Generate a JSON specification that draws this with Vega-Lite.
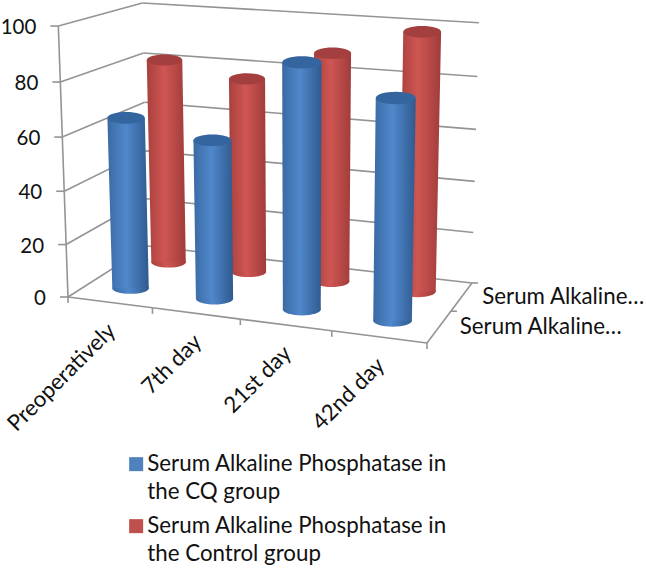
{"$schema":"https://vega.github.io/schema/vega-lite/v6.json","width":646,"height":571,"padding":0,"autosize":{"type":"none"},"background":"white","config":{"view":{"stroke":null},"text":{"font":"Lato"},"style":{"guide-label":{"lineHeight":28}}},
"datasets":{
"bars":[{"day":"Preoperatively","group":"Serum Alkaline Phosphatase in the CQ group","value":65},{"day":"7th day","group":"Serum Alkaline Phosphatase in the CQ group","value":59.5},{"day":"21st day","group":"Serum Alkaline Phosphatase in the CQ group","value":90},{"day":"42nd day","group":"Serum Alkaline Phosphatase in the CQ group","value":80},{"day":"Preoperatively","group":"Serum Alkaline Phosphatase in the Control  group","value":81},{"day":"7th day","group":"Serum Alkaline Phosphatase in the Control  group","value":76},{"day":"21st day","group":"Serum Alkaline Phosphatase in the Control  group","value":88},{"day":"42nd day","group":"Serum Alkaline Phosphatase in the Control  group","value":98}],
"ticks":[{"tick":0},{"tick":20},{"tick":40},{"tick":60},{"tick":80},{"tick":100}],
"days":[{"day":"Preoperatively"},{"day":"7th day"},{"day":"21st day"},{"day":"42nd day"}],
"groups":[{"group":"CQ","short":"Serum Alkaline…"},{"group":"Control","short":"Serum Alkaline…"}]},
"layer":[
{"data":{"name":"ticks"},"transform":[{"calculate":"datum.tick/100","as":"z"},{"calculate":"(68-12*datum.z)/(1-0.04*datum.z)","as":"px"},{"calculate":"(297-272*datum.z)/(1-0.04*datum.z)","as":"py"},{"calculate":"(165.57-12*datum.z)/(1.1187-0.04*datum.z)","as":"qx"},{"calculate":"(275.2-272*datum.z)/(1.1187-0.04*datum.z)","as":"qy"}],"mark":{"type":"rule","color":"#949494","strokeWidth":1.6},"encoding":{"x":{"field":"px","type":"quantitative","scale":{"domain":[0,646],"range":[0,646]},"axis":null},"x2":{"field":"qx"},"y":{"field":"py","type":"quantitative","scale":{"domain":[0,571],"range":[0,571]},"axis":null},"y2":{"field":"qy"}}},
{"data":{"name":"ticks"},"transform":[{"calculate":"datum.tick/100","as":"z"},{"calculate":"(491.77-12*datum.z)/(1.0419-0.04*datum.z)","as":"px"},{"calculate":"(294.86-272*datum.z)/(1.0419-0.04*datum.z)","as":"py"},{"calculate":"(165.57-12*datum.z)/(1.1187-0.04*datum.z)","as":"qx"},{"calculate":"(275.2-272*datum.z)/(1.1187-0.04*datum.z)","as":"qy"}],"mark":{"type":"rule","color":"#949494","strokeWidth":1.6},"encoding":{"x":{"field":"px","type":"quantitative","scale":{"domain":[0,646],"range":[0,646]},"axis":null},"x2":{"field":"qx"},"y":{"field":"py","type":"quantitative","scale":{"domain":[0,571],"range":[0,571]},"axis":null},"y2":{"field":"qy"}}},
{"data":{"name":"ticks"},"transform":[{"calculate":"datum.tick/100","as":"z"},{"calculate":"(68-12*datum.z)/(1-0.04*datum.z)","as":"px"},{"calculate":"(297-272*datum.z)/(1-0.04*datum.z)","as":"py"},{"calculate":"datum.px-8","as":"qx"}],"mark":{"type":"rule","color":"#949494","strokeWidth":1.6},"encoding":{"x":{"field":"px","type":"quantitative","scale":{"domain":[0,646],"range":[0,646]},"axis":null},"x2":{"field":"qx"},"y":{"field":"py","type":"quantitative","scale":{"domain":[0,571],"range":[0,571]},"axis":null}}},
{"data":{"name":"ticks"},"transform":[{"filter":"datum.tick<100"},{"calculate":"datum.tick/100","as":"z"},{"calculate":"datum.z+0.2","as":"z2"},{"calculate":"(68-12*datum.z)/(1-0.04*datum.z)","as":"px"},{"calculate":"(297-272*datum.z)/(1-0.04*datum.z)","as":"py"},{"calculate":"(68-12*datum.z2)/(1-0.04*datum.z2)","as":"qx"},{"calculate":"(297-272*datum.z2)/(1-0.04*datum.z2)","as":"qy"}],"mark":{"type":"rule","color":"#949494","strokeWidth":1.6},"encoding":{"x":{"field":"px","type":"quantitative","scale":{"domain":[0,646],"range":[0,646]},"axis":null},"x2":{"field":"qx"},"y":{"field":"py","type":"quantitative","scale":{"domain":[0,571],"range":[0,571]},"axis":null},"y2":{"field":"qy"}}},
{"data":{"name":"days"},"transform":[{"calculate":"indexof(['Preoperatively','7th day','21st day','42nd day'],datum.day)","as":"i"},{"calculate":"datum.i/4","as":"u"},{"calculate":"(datum.i+1)/4","as":"u2"},{"calculate":"(326.2*datum.u+68)/(1-0.0768*datum.u)","as":"px"},{"calculate":"(19.66*datum.u+297)/(1-0.0768*datum.u)","as":"py"},{"calculate":"(326.2*datum.u2+68)/(1-0.0768*datum.u2)","as":"qx"},{"calculate":"(19.66*datum.u2+297)/(1-0.0768*datum.u2)","as":"qy"}],"mark":{"type":"rule","color":"#949494","strokeWidth":1.6},"encoding":{"x":{"field":"px","type":"quantitative","scale":{"domain":[0,646],"range":[0,646]},"axis":null},"x2":{"field":"qx"},"y":{"field":"py","type":"quantitative","scale":{"domain":[0,571],"range":[0,571]},"axis":null},"y2":{"field":"qy"}}},
{"data":{"name":"days"},"transform":[{"calculate":"indexof(['Preoperatively','7th day','21st day','42nd day'],datum.day)","as":"i"},{"calculate":"(datum.i+1)/4","as":"u"},{"calculate":"(326.2*datum.u+68)/(1-0.0768*datum.u)","as":"px"},{"calculate":"(19.66*datum.u+297)/(1-0.0768*datum.u)","as":"py"},{"calculate":"datum.py+6","as":"qy"}],"mark":{"type":"rule","color":"#949494","strokeWidth":1.6},"encoding":{"x":{"field":"px","type":"quantitative","scale":{"domain":[0,646],"range":[0,646]},"axis":null},"y":{"field":"py","type":"quantitative","scale":{"domain":[0,571],"range":[0,571]},"axis":null},"y2":{"field":"qy"}}},
{"data":{"name":"ticks"},"transform":[{"filter":"datum.tick==0"},{"calculate":"68","as":"px"},{"calculate":"297","as":"py"},{"calculate":"303","as":"qy"}],"mark":{"type":"rule","color":"#949494","strokeWidth":1.6},"encoding":{"x":{"field":"px","type":"quantitative","scale":{"domain":[0,646],"range":[0,646]},"axis":null},"y":{"field":"py","type":"quantitative","scale":{"domain":[0,571],"range":[0,571]},"axis":null},"y2":{"field":"qy"}}},
{"data":{"name":"groups"},"transform":[{"calculate":"datum.group=='CQ'?0:0.5","as":"v"},{"calculate":"datum.v+0.5","as":"v2"},{"calculate":"(394.2+97.57*datum.v)/(0.9232+0.1187*datum.v)","as":"px"},{"calculate":"(316.66-21.8*datum.v)/(0.9232+0.1187*datum.v)","as":"py"},{"calculate":"(394.2+97.57*datum.v2)/(0.9232+0.1187*datum.v2)","as":"qx"},{"calculate":"(316.66-21.8*datum.v2)/(0.9232+0.1187*datum.v2)","as":"qy"}],"mark":{"type":"rule","color":"#949494","strokeWidth":1.6},"encoding":{"x":{"field":"px","type":"quantitative","scale":{"domain":[0,646],"range":[0,646]},"axis":null},"x2":{"field":"qx"},"y":{"field":"py","type":"quantitative","scale":{"domain":[0,571],"range":[0,571]},"axis":null},"y2":{"field":"qy"}}},
{"data":{"name":"groups"},"transform":[{"calculate":"datum.group=='CQ'?0.5:1","as":"v"},{"calculate":"(394.2+97.57*datum.v)/(0.9232+0.1187*datum.v)","as":"px"},{"calculate":"(316.66-21.8*datum.v)/(0.9232+0.1187*datum.v)","as":"py"},{"calculate":"datum.px+6","as":"qx"}],"mark":{"type":"rule","color":"#949494","strokeWidth":1.6},"encoding":{"x":{"field":"px","type":"quantitative","scale":{"domain":[0,646],"range":[0,646]},"axis":null},"x2":{"field":"qx"},"y":{"field":"py","type":"quantitative","scale":{"domain":[0,571],"range":[0,571]},"axis":null}}},

{"data":{"name":"bars"},"transform":[{"filter":"indexof(datum.group,'Control')>=0"},{"calculate":"(indexof(['Preoperatively','7th day','21st day','42nd day'],datum.day)+0.5)/4","as":"u"},{"calculate":"0.75","as":"v"},{"calculate":"1-0.0768*datum.u+0.1187*datum.v","as":"w"},{"calculate":"(326.2*datum.u+97.57*datum.v+68)/datum.w","as":"px"},{"calculate":"(19.66*datum.u-21.8*datum.v+297)/datum.w","as":"py"},{"calculate":"pow(37.2/datum.w,2)","as":"s"}],"mark":{"type":"point","filled":true,"opacity":1,"shape":"M-1,0A1,0.31 0 1,1 1,0A1,0.31 0 1,1 -1,0Z","fill":{"x1":0,"x2":1,"y1":0,"y2":0,"gradient":"linear","stops":[{"offset":0,"color":"#a8403d"},{"offset":0.45,"color":"#cf5653"},{"offset":1,"color":"#a03c3a"}]}},"encoding":{"x":{"field":"px","type":"quantitative","scale":{"domain":[0,646],"range":[0,646]},"axis":null},"y":{"field":"py","type":"quantitative","scale":{"domain":[0,571],"range":[0,571]},"axis":null},"size":{"field":"s","type":"quantitative","scale":null}}},
{"data":{"name":"bars"},"transform":[{"filter":"indexof(datum.group,'Control')>=0"},{"calculate":"0","as":"floor"},{"fold":["floor","value"],"as":["end","h"]},{"calculate":"(indexof(['Preoperatively','7th day','21st day','42nd day'],datum.day)+0.5)/4","as":"u"},{"calculate":"0.75","as":"v"},{"calculate":"datum.h/100","as":"z"},{"calculate":"1-0.0768*datum.u+0.1187*datum.v-0.04*datum.z","as":"w"},{"calculate":"(326.2*datum.u+97.57*datum.v+68-12*datum.z)/datum.w","as":"px"},{"calculate":"(19.66*datum.u-21.8*datum.v+297-272*datum.z)/datum.w","as":"py"},{"calculate":"datum.px-18.6/datum.w","as":"xa"},{"calculate":"datum.px+18.6/datum.w","as":"xb"}],"mark":{"type":"area","orient":"horizontal","fill":{"x1":0,"x2":1,"y1":0,"y2":0,"gradient":"linear","stops":[{"offset":0,"color":"#a8403d"},{"offset":0.45,"color":"#cf5653"},{"offset":1,"color":"#a03c3a"}]}},"encoding":{"x":{"field":"xa","type":"quantitative","stack":null,"scale":{"domain":[0,646],"range":[0,646]},"axis":null},"x2":{"field":"xb"},"y":{"field":"py","type":"quantitative","scale":{"domain":[0,571],"range":[0,571]},"axis":null},"detail":{"field":"day"}}},
{"data":{"name":"bars"},"transform":[{"filter":"indexof(datum.group,'Control')>=0"},{"calculate":"(indexof(['Preoperatively','7th day','21st day','42nd day'],datum.day)+0.5)/4","as":"u"},{"calculate":"0.75","as":"v"},{"calculate":"datum.value/100","as":"z"},{"calculate":"1-0.0768*datum.u+0.1187*datum.v-0.04*datum.z","as":"w"},{"calculate":"(326.2*datum.u+97.57*datum.v+68-12*datum.z)/datum.w","as":"px"},{"calculate":"(19.66*datum.u-21.8*datum.v+297-272*datum.z)/datum.w","as":"py"},{"calculate":"pow(37.2/datum.w,2)","as":"s"}],"mark":{"type":"point","filled":true,"opacity":1,"shape":"M-1,0A1,0.31 0 1,1 1,0A1,0.31 0 1,1 -1,0Z","fill":"#a33f3e"},"encoding":{"x":{"field":"px","type":"quantitative","scale":{"domain":[0,646],"range":[0,646]},"axis":null},"y":{"field":"py","type":"quantitative","scale":{"domain":[0,571],"range":[0,571]},"axis":null},"size":{"field":"s","type":"quantitative","scale":null}}},

{"data":{"name":"bars"},"transform":[{"filter":"indexof(datum.group,'CQ')>=0"},{"calculate":"(indexof(['Preoperatively','7th day','21st day','42nd day'],datum.day)+0.5)/4","as":"u"},{"calculate":"0.25","as":"v"},{"calculate":"1-0.0768*datum.u+0.1187*datum.v","as":"w"},{"calculate":"(326.2*datum.u+97.57*datum.v+68)/datum.w","as":"px"},{"calculate":"(19.66*datum.u-21.8*datum.v+297)/datum.w","as":"py"},{"calculate":"pow(37.2/datum.w,2)","as":"s"}],"mark":{"type":"point","filled":true,"opacity":1,"shape":"M-1,0A1,0.31 0 1,1 1,0A1,0.31 0 1,1 -1,0Z","fill":{"x1":0,"x2":1,"y1":0,"y2":0,"gradient":"linear","stops":[{"offset":0,"color":"#3a6aa3"},{"offset":0.45,"color":"#5088cc"},{"offset":1,"color":"#2f5a8e"}]}},"encoding":{"x":{"field":"px","type":"quantitative","scale":{"domain":[0,646],"range":[0,646]},"axis":null},"y":{"field":"py","type":"quantitative","scale":{"domain":[0,571],"range":[0,571]},"axis":null},"size":{"field":"s","type":"quantitative","scale":null}}},
{"data":{"name":"bars"},"transform":[{"filter":"indexof(datum.group,'CQ')>=0"},{"calculate":"0","as":"floor"},{"fold":["floor","value"],"as":["end","h"]},{"calculate":"(indexof(['Preoperatively','7th day','21st day','42nd day'],datum.day)+0.5)/4","as":"u"},{"calculate":"0.25","as":"v"},{"calculate":"datum.h/100","as":"z"},{"calculate":"1-0.0768*datum.u+0.1187*datum.v-0.04*datum.z","as":"w"},{"calculate":"(326.2*datum.u+97.57*datum.v+68-12*datum.z)/datum.w","as":"px"},{"calculate":"(19.66*datum.u-21.8*datum.v+297-272*datum.z)/datum.w","as":"py"},{"calculate":"datum.px-18.6/datum.w","as":"xa"},{"calculate":"datum.px+18.6/datum.w","as":"xb"}],"mark":{"type":"area","orient":"horizontal","fill":{"x1":0,"x2":1,"y1":0,"y2":0,"gradient":"linear","stops":[{"offset":0,"color":"#3a6aa3"},{"offset":0.45,"color":"#5088cc"},{"offset":1,"color":"#2f5a8e"}]}},"encoding":{"x":{"field":"xa","type":"quantitative","stack":null,"scale":{"domain":[0,646],"range":[0,646]},"axis":null},"x2":{"field":"xb"},"y":{"field":"py","type":"quantitative","scale":{"domain":[0,571],"range":[0,571]},"axis":null},"detail":{"field":"day"}}},
{"data":{"name":"bars"},"transform":[{"filter":"indexof(datum.group,'CQ')>=0"},{"calculate":"(indexof(['Preoperatively','7th day','21st day','42nd day'],datum.day)+0.5)/4","as":"u"},{"calculate":"0.25","as":"v"},{"calculate":"datum.value/100","as":"z"},{"calculate":"1-0.0768*datum.u+0.1187*datum.v-0.04*datum.z","as":"w"},{"calculate":"(326.2*datum.u+97.57*datum.v+68-12*datum.z)/datum.w","as":"px"},{"calculate":"(19.66*datum.u-21.8*datum.v+297-272*datum.z)/datum.w","as":"py"},{"calculate":"pow(37.2/datum.w,2)","as":"s"}],"mark":{"type":"point","filled":true,"opacity":1,"shape":"M-1,0A1,0.31 0 1,1 1,0A1,0.31 0 1,1 -1,0Z","fill":"#35659f"},"encoding":{"x":{"field":"px","type":"quantitative","scale":{"domain":[0,646],"range":[0,646]},"axis":null},"y":{"field":"py","type":"quantitative","scale":{"domain":[0,571],"range":[0,571]},"axis":null},"size":{"field":"s","type":"quantitative","scale":null}}},

{"data":{"name":"ticks"},"transform":[{"calculate":"datum.tick/100","as":"z"},{"calculate":"(68-12*datum.z)/(1-0.04*datum.z)-22","as":"px"},{"calculate":"(297-272*datum.z)/(1-0.04*datum.z)+2","as":"py"}],"mark":{"type":"text","align":"right","baseline":"middle","fontSize":20.5,"font":"Lato","color":"#111111"},"encoding":{"x":{"field":"px","type":"quantitative","scale":{"domain":[0,646],"range":[0,646]},"axis":null},"y":{"field":"py","type":"quantitative","scale":{"domain":[0,571],"range":[0,571]},"axis":null},"text":{"field":"tick","type":"nominal"}}},
{"data":{"name":"days"},"transform":[{"calculate":"(indexof(['Preoperatively','7th day','21st day','42nd day'],datum.day)+0.5)/4","as":"u"},{"calculate":"(326.2*datum.u+68)/(1-0.0768*datum.u)+2","as":"px"},{"calculate":"(19.66*datum.u+297)/(1-0.0768*datum.u)+25","as":"py"}],"mark":{"type":"text","align":"right","baseline":"middle","angle":315,"fontSize":22.3,"font":"Lato","color":"#111111"},"encoding":{"x":{"field":"px","type":"quantitative","scale":{"domain":[0,646],"range":[0,646]},"axis":null},"y":{"field":"py","type":"quantitative","scale":{"domain":[0,571],"range":[0,571]},"axis":null},"text":{"field":"day","type":"nominal"}}},
{"data":{"name":"groups"},"transform":[{"calculate":"datum.group=='CQ'?0.25:0.75","as":"v"},{"calculate":"(394.2+97.57*datum.v)/(0.9232+0.1187*datum.v)+20.5","as":"px"},{"calculate":"(316.66-21.8*datum.v)/(0.9232+0.1187*datum.v)","as":"py"}],"mark":{"type":"text","align":"left","baseline":"middle","fontSize":22.3,"font":"Lato","color":"#111111"},"encoding":{"x":{"field":"px","type":"quantitative","scale":{"domain":[0,646],"range":[0,646]},"axis":null},"y":{"field":"py","type":"quantitative","scale":{"domain":[0,571],"range":[0,571]},"axis":null},"text":{"field":"short","type":"nominal"}}},

{"data":{"name":"bars"},"mark":{"type":"point","filled":true,"opacity":0},"encoding":{"x":{"field":"value","type":"quantitative","scale":{"domain":[0,646],"range":[0,646]},"axis":null},"y":{"field":"value","type":"quantitative","scale":{"domain":[0,571],"range":[0,571]},"axis":null},"color":{"field":"group","type":"nominal","scale":{"domain":["Serum Alkaline Phosphatase in the CQ group","Serum Alkaline Phosphatase in the Control  group"],"range":["#4f81bd","#c0504d"]},"legend":{"title":null,"orient":"none","legendX":125,"legendY":453,"symbolType":"square","symbolSize":196,"symbolOpacity":1,"symbolStrokeWidth":0,"labelFont":"Lato","labelFontSize":22.3,"labelColor":"#111111","labelLimit":400,"rowPadding":11,"labelOffset":0,"labelExpr":"indexof(datum.label,'CQ')>=0?['Serum Alkaline Phosphatase in','the CQ group']:['Serum Alkaline Phosphatase in','the Control  group']"}}}}
]}
